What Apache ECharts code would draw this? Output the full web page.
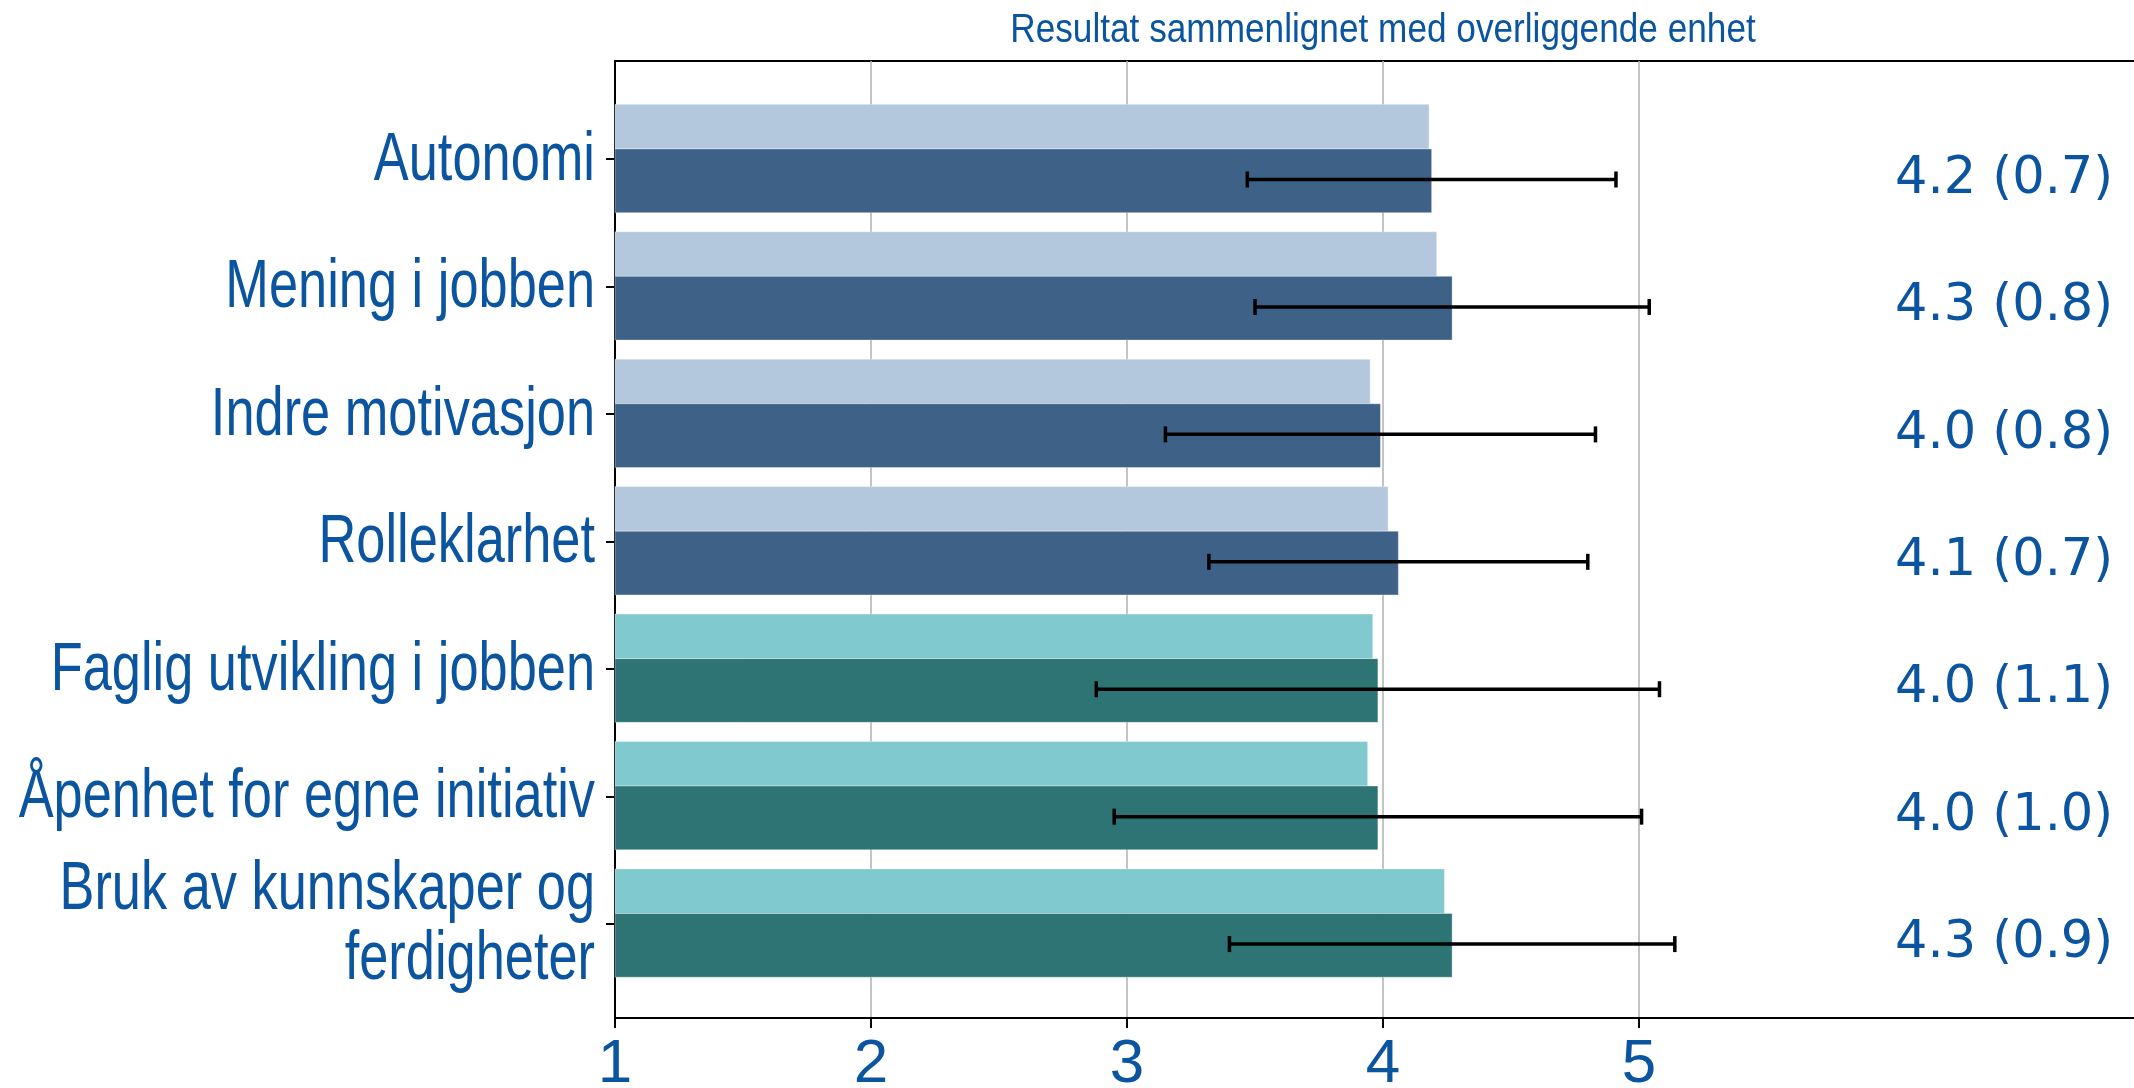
<!DOCTYPE html>
<html>
<head>
<meta charset="utf-8">
<script src="https://cdn.jsdelivr.net/npm/echarts@6/dist/echarts.min.js"></script>
<style>
  html, body { margin: 0; padding: 0; background: #fff; }
  #chart { width: 2134px; height: 1088px; }
</style>
</head>
<body>
<div id="chart"></div>
<script>
// kategorier, ovenfra og ned
var categories = [
  'Autonomi',
  'Mening i jobben',
  'Indre motivasjon',
  'Rolleklarhet',
  'Faglig utvikling i jobben',
  'Åpenhet for egne initiativ',
  'Bruk av kunnskaper og\nferdigheter'
];
var groups = [0, 0, 0, 0, 1, 1, 1];           // 0 = blå, 1 = grønn
var unitMeans = [4.18, 4.21, 3.95, 4.02, 3.96, 3.94, 4.24];  // overliggende enhet
var ownMeans = [4.19, 4.27, 3.99, 4.06, 3.98, 3.98, 4.27];   // egen enhet
var ownSd = [0.72, 0.77, 0.84, 0.74, 1.10, 1.03, 0.87];
var xTicks = [1, 2, 3, 4, 5];
var yTicks = [0, 1, 2, 3, 4, 5, 6];

var lightColors = ['#b3c8dd', '#80c9ce'];
var darkColors = ['#3e6188', '#2e7475'];
var textBlue = '#0b55a0';
var arial = '"Liberation Sans", Arial, sans-serif';

var chart = echarts.init(document.getElementById('chart'));

function rect(api, x0, x1, y0, y1, color) {
  var p0 = api.coord([x0, y0]);
  var p1 = api.coord([x1, y1]);
  return {
    type: 'rect',
    shape: { x: p0[0], y: p0[1], width: p1[0] - p0[0], height: p1[1] - p0[1] },
    style: { fill: color, stroke: 'rgba(255,255,255,0.35)', lineWidth: 1 }
  };
}

var option = {
  animation: false,
  backgroundColor: '#fff',
  graphic: [{
    type: 'text',
    x: 1383, y: 31, scaleX: 0.88,
    style: {
      text: 'Resultat sammenlignet med overliggende enhet',
      fill: textBlue, font: '40px ' + arial,
      textAlign: 'center', textVerticalAlign: 'middle'
    }
  }],
  grid: {
    left: 615, right: -17, top: 61, bottom: 70,
    outerBoundsMode: 'none', containLabel: false,
    show: true, borderColor: '#000', borderWidth: 2
  },
  xAxis: {
    type: 'value', min: 1, max: 7, interval: 1,
    axisLine: { show: true, onZero: false, lineStyle: { color: '#000', width: 2 } },
    axisTick: { show: true, customValues: xTicks, length: 10, lineStyle: { color: '#000', width: 2 } },
    axisLabel: { customValues: xTicks, color: textBlue, fontSize: 62, fontFamily: arial, margin: 16 },
    splitLine: { show: true, lineStyle: { color: '#b0b0b0', width: 1.5 } }
  },
  yAxis: {
    type: 'value', inverse: true, min: -0.77, max: 6.74,
    axisLine: { show: true, onZero: false, lineStyle: { color: '#000', width: 2 } },
    axisTick: { show: true, customValues: yTicks, length: 9, lineStyle: { color: '#000', width: 2 } },
    axisLabel: { show: false },
    splitLine: { show: false }
  },
  series: [
    {
      // lyse søyler: overliggende enhet
      type: 'custom',
      data: unitMeans.map(function (v, i) { return [v, i, groups[i]]; }),
      encode: { x: 0, y: 1 },
      renderItem: function (params, api) {
        var i = api.value(1);
        return rect(api, 1, api.value(0), i - 0.43, i - 0.08, lightColors[api.value(2)]);
      }
    },
    {
      // mørke søyler: egen enhet
      type: 'custom',
      data: ownMeans.map(function (v, i) { return [v, i, groups[i]]; }),
      encode: { x: 0, y: 1 },
      renderItem: function (params, api) {
        var i = api.value(1);
        return rect(api, 1, api.value(0), i - 0.08, i + 0.42, darkColors[api.value(2)]);
      }
    },
    {
      // standardavvik
      type: 'custom',
      data: ownMeans.map(function (v, i) { return [v - ownSd[i], v + ownSd[i], i]; }),
      encode: { x: [0, 1], y: 2 },
      renderItem: function (params, api) {
        var y = api.value(2) + 0.16;
        var a = api.coord([api.value(0), y]);
        var b = api.coord([api.value(1), y]);
        var st = { stroke: '#000', lineWidth: 3.5 };
        return {
          type: 'group',
          children: [
            { type: 'line', shape: { x1: a[0], y1: a[1], x2: b[0], y2: b[1] }, style: st },
            { type: 'line', shape: { x1: a[0], y1: a[1] - 8, x2: a[0], y2: a[1] + 8 }, style: st },
            { type: 'line', shape: { x1: b[0], y1: b[1] - 8, x2: b[0], y2: b[1] + 8 }, style: st }
          ]
        };
      }
    },
    {
      // kategorinavn til venstre for aksen (smal skrift)
      type: 'custom',
      data: categories.map(function (c, i) { return [1, i]; }),
      encode: { x: 0, y: 1 },
      clip: false,
      renderItem: function (params, api) {
        var p = api.coord([api.value(0), api.value(1)]);
        return {
          type: 'text',
          x: p[0] - 20, y: p[1] + 2, scaleX: 0.77,
          style: {
            text: categories[params.dataIndex],
            fill: textBlue, fontSize: 68, fontFamily: arial, lineHeight: 70,
            align: 'right', verticalAlign: 'middle'
          }
        };
      }
    },
    {
      // tekst til høyre: snitt (sd)
      type: 'custom',
      data: ownMeans.map(function (v, i) { return [6, i, v, ownSd[i]]; }),
      encode: { x: 0, y: 1 },
      renderItem: function (params, api) {
        var p = api.coord([api.value(0), api.value(1) + 0.16]);
        return {
          type: 'text',
          x: p[0], y: p[1],
          style: {
            text: api.value(2).toFixed(1) + ' (' + api.value(3).toFixed(1) + ')',
            fill: textBlue, font: '51px "DejaVu Sans", sans-serif',
            textAlign: 'left', textVerticalAlign: 'middle'
          }
        };
      }
    }
  ]
};

chart.setOption(option);
</script>
</body>
</html>
